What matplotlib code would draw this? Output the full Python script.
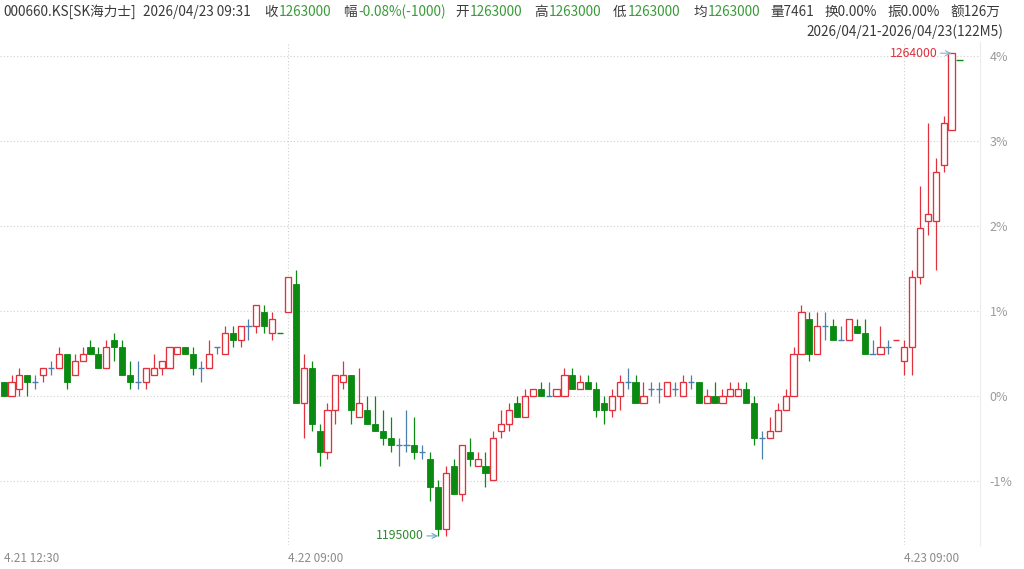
import matplotlib
matplotlib.use('Agg')
import matplotlib.pyplot as plt
import numpy as np

plt.rcParams['font.family'] = ['Noto Sans CJK SC', 'DejaVu Sans']

prev_close = 1215000

opens = [1217000, 1215000, 1216000, 1218000, 1217000, 1218000, 1219000, 1219000, 1221000, 1218000,
         1220000, 1222000, 1221000, 1219000, 1223000, 1222000, 1218000, 1217000, 1217000, 1218000,
         1219000, 1219000, 1221000, 1222000, 1221000, 1219000, 1219000, 1222000, 1221000, 1224000,
         1223000, 1225000, 1225000, 1227000, 1224000, 1224000, 1227000, 1231000, 1214000, 1219000,
         1210000, 1207000, 1213000, 1217000, 1218000, 1212000, 1213000, 1211000, 1210000, 1209000,
         1208000, 1208000, 1208000, 1207000, 1206000, 1202000, 1196000, 1205000, 1201000, 1207000,
         1205000, 1205000, 1203000, 1210000, 1211000, 1214000, 1212000, 1215000, 1216000, 1215000,
         1215000, 1215000, 1218000, 1216000, 1217000, 1216000, 1214000, 1213000, 1215000, 1217000,
         1217000, 1214000, 1216000, 1216000, 1215000, 1216000, 1215000, 1217000, 1217000, 1214000,
         1215000, 1214000, 1215000, 1215000, 1216000, 1214000, 1209000, 1209000, 1210000, 1213000,
         1215000, 1221000, 1226000, 1221000, 1225000, 1225000, 1223000, 1223000, 1225000, 1224000,
         1221000, 1221000, 1222000, 1223000, 1220000, 1222000, 1232000, 1240000, 1240000, 1248000,
         1253000, 1263000]
highs = [1217000, 1218000, 1219000, 1218000, 1218000, 1219000, 1220000, 1222000, 1221000, 1221000,
         1222000, 1223000, 1222000, 1223000, 1224000, 1223000, 1220000, 1220000, 1219000, 1221000,
         1220000, 1222000, 1222000, 1222000, 1222000, 1220000, 1223000, 1222000, 1225000, 1225000,
         1225000, 1226000, 1228000, 1228000, 1227000, 1224000, 1232000, 1233000, 1221000, 1220000,
         1211000, 1214000, 1218000, 1220000, 1218000, 1219000, 1215000, 1215000, 1213000, 1212000,
         1209000, 1213000, 1212000, 1208000, 1207000, 1203000, 1205000, 1206000, 1208000, 1209000,
         1207000, 1207000, 1210000, 1213000, 1214000, 1215000, 1216000, 1216000, 1217000, 1217000,
         1216000, 1219000, 1219000, 1218000, 1218000, 1217000, 1215000, 1216000, 1218000, 1219000,
         1218000, 1217000, 1217000, 1217000, 1217000, 1217000, 1218000, 1218000, 1217000, 1216000,
         1217000, 1216000, 1217000, 1217000, 1217000, 1215000, 1210000, 1212000, 1214000, 1216000,
         1222000, 1228000, 1227000, 1227000, 1227000, 1226000, 1225000, 1226000, 1226000, 1226000,
         1223000, 1225000, 1223000, 1223000, 1223000, 1233000, 1245000, 1254000, 1249000, 1255000,
         1264000, 1263000]
lows = [1215000, 1215000, 1215000, 1215000, 1216000, 1217000, 1218000, 1219000, 1216000, 1218000,
        1220000, 1221000, 1219000, 1219000, 1220000, 1218000, 1216000, 1216000, 1216000, 1218000,
        1218000, 1219000, 1221000, 1221000, 1218000, 1217000, 1219000, 1221000, 1221000, 1222000,
        1222000, 1223000, 1224000, 1224000, 1223000, 1224000, 1227000, 1214000, 1209000, 1210000,
        1205000, 1206000, 1211000, 1216000, 1211000, 1212000, 1211000, 1210000, 1208000, 1207000,
        1205000, 1207000, 1206000, 1206000, 1200000, 1195000, 1195000, 1201000, 1200000, 1205000,
        1205000, 1202000, 1203000, 1209000, 1210000, 1212000, 1212000, 1215000, 1215000, 1215000,
        1215000, 1215000, 1216000, 1216000, 1216000, 1212000, 1211000, 1212000, 1213000, 1216000,
        1214000, 1214000, 1215000, 1214000, 1215000, 1215000, 1215000, 1216000, 1214000, 1214000,
        1214000, 1214000, 1215000, 1215000, 1214000, 1208000, 1206000, 1209000, 1210000, 1213000,
        1215000, 1221000, 1220000, 1221000, 1223000, 1223000, 1223000, 1223000, 1224000, 1221000,
        1221000, 1221000, 1221000, 1223000, 1218000, 1218000, 1231000, 1238000, 1233000, 1247000,
        1253000, 1263000]
closes = [1215000, 1217000, 1218000, 1217000, 1217000, 1219000, 1219000, 1221000, 1217000, 1220000,
          1221000, 1221000, 1219000, 1222000, 1222000, 1218000, 1217000, 1217000, 1219000, 1219000,
          1220000, 1222000, 1222000, 1221000, 1219000, 1219000, 1221000, 1222000, 1224000, 1223000,
          1225000, 1225000, 1228000, 1225000, 1226000, 1224000, 1232000, 1214000, 1219000, 1211000,
          1207000, 1213000, 1218000, 1218000, 1213000, 1214000, 1211000, 1210000, 1209000, 1208000,
          1208000, 1208000, 1207000, 1207000, 1202000, 1196000, 1204000, 1201000, 1208000, 1206000,
          1206000, 1204000, 1209000, 1211000, 1213000, 1212000, 1215000, 1216000, 1215000, 1215000,
          1216000, 1218000, 1216000, 1217000, 1216000, 1213000, 1213000, 1215000, 1217000, 1217000,
          1214000, 1215000, 1216000, 1216000, 1217000, 1216000, 1217000, 1217000, 1214000, 1215000,
          1214000, 1215000, 1216000, 1216000, 1214000, 1209000, 1209000, 1210000, 1213000, 1215000,
          1221000, 1227000, 1221000, 1225000, 1225000, 1223000, 1223000, 1226000, 1224000, 1221000,
          1221000, 1222000, 1222000, 1223000, 1222000, 1232000, 1239000, 1241000, 1247000, 1254000,
          1264000, 1263000]

x_ticks = [0, 36, 114]
x_tick_labels = ['4.21 12:30', '4.22 09:00', '4.23 09:00']
pct_levels = [-1, 0, 1, 2, 3, 4]

RED = '#e0313d'
GREEN = '#0b8a12'
DOJI = '#4a7fae'
GRID = '#cfcfcf'

fig = plt.figure(figsize=(10.24, 5.69), dpi=100)
ax = fig.add_axes([0, 1 - 545 / 569, 980 / 1024, (545 - 42) / 569])

n = len(opens)
xs = np.arange(n)
w = 0.78

for i in range(n):
    o, h, l, c = opens[i], highs[i], lows[i], closes[i]
    prev = closes[i - 1] if i > 0 else prev_close
    if c > o:
        col = RED
    elif c < o:
        col = GREEN
    elif h == l:
        col = RED if c >= prev else GREEN
    else:
        col = DOJI
    if h > l:
        ax.vlines(xs[i], l, h, color=col, lw=0.9, zorder=2)
    if c > o:
        ax.bar(xs[i], c - o, bottom=o, width=w, facecolor='white', edgecolor=col, linewidth=0.95, zorder=3)
    elif c < o:
        ax.bar(xs[i], o - c, bottom=c, width=w, facecolor=col, edgecolor=col, linewidth=0.6, zorder=3)
    else:
        ax.hlines(o, xs[i] - w / 2, xs[i] + w / 2, color=col, lw=1.0, zorder=3)

# grid lines
for k in pct_levels:
    ax.axhline(prev_close * (1 + k / 100), color=GRID, lw=0.8, ls=(0, (1, 2)), zorder=0)
for t in x_ticks[1:]:
    ax.axvline(t, color=GRID, lw=0.8, ls=(0, (1, 2)), zorder=0)

ax.set_xlim(-0.456, 123.6)
ax.set_ylim(1193702, 1265601)

ax.set_xticks(x_ticks)
ax.set_xticklabels(x_tick_labels, ha='left')
ax.tick_params(axis='x', length=0, pad=5, labelsize=8.5, labelcolor='#8a8a8a')
ax.yaxis.tick_right()
ax.set_yticks([prev_close * (1 + k / 100) for k in pct_levels])
ax.set_yticklabels([f'{k}%' for k in pct_levels])
ax.tick_params(axis='y', length=0, pad=7, labelsize=9, labelcolor='#9a9a9a')
for s in ['top', 'left', 'bottom']:
    ax.spines[s].set_visible(False)
ax.spines['right'].set_color('#ececec')
ax.spines['right'].set_linewidth(0.8)

# max / min annotations
imax = int(np.argmax(highs))
imin = int(np.argmin(lows))
ax.annotate(f'{highs[imax]}', xy=(imax, highs[imax]), xytext=(-14, 0), textcoords='offset pixels',
            ha='right', va='center', color=RED, fontsize=8.8,
            arrowprops=dict(arrowstyle='->', color='#8db0cc', lw=0.8, shrinkA=0, shrinkB=0))
ax.annotate(f'{lows[imin]}', xy=(imin, lows[imin]), xytext=(-14, 0), textcoords='offset pixels',
            ha='right', va='center', color='#2d8a2d', fontsize=8.8,
            arrowprops=dict(arrowstyle='->', color='#6aa8c8', lw=0.8, shrinkA=0, shrinkB=0))

# header
DARK = '#3a3a3a'
VGREEN = '#3a9a3a'
header = [
    (3, '000660.KS[SK海力士]', DARK),
    (143, '2026/04/23 09:31', DARK),
    (264, '收', DARK), (279, '1263000', VGREEN),
    (343, '幅', DARK), (358, '-0.08%(-1000)', VGREEN),
    (455, '开', DARK), (470, '1263000', VGREEN),
    (534, '高', DARK), (549, '1263000', VGREEN),
    (613, '低', DARK), (628, '1263000', VGREEN),
    (693, '均', DARK), (708, '1263000', VGREEN),
    (770, '量7461', DARK),
    (825, '换0.00%', DARK),
    (888, '振0.00%', DARK),
    (950, '额126万', DARK),
]
for xp, txt, col in header:
    fig.text(xp / 1024, 1 - 12 / 569, txt, color=col, fontsize=9.8, ha='left', va='center')
fig.text(1003 / 1024, 1 - 32 / 569, '2026/04/21-2026/04/23(122M5)', color=DARK, fontsize=9.8,
         ha='right', va='center')

fig.savefig('out.png', dpi=100)
